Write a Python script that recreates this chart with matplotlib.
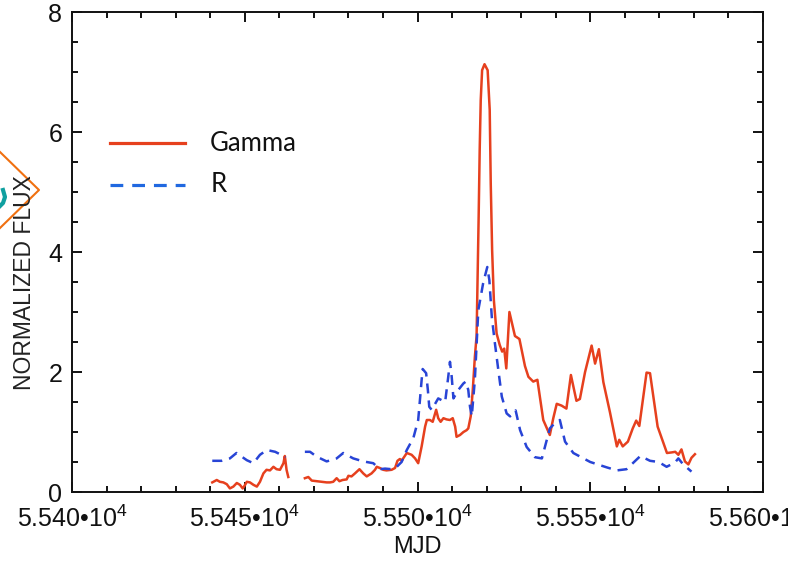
import numpy as np
import matplotlib
matplotlib.use("Agg")
import matplotlib.pyplot as plt
from matplotlib.ticker import MultipleLocator, FixedLocator, FixedFormatter

plt.rcParams['font.family'] = ['Liberation Sans', 'DejaVu Sans']
plt.rcParams['mathtext.fontset'] = 'custom'
plt.rcParams['mathtext.rm'] = 'Liberation Sans'
plt.rcParams['mathtext.it'] = 'Liberation Sans:italic'

# ---------------- data ----------------
gamma_mjd = [55440.6, 55441.9, 55442.8, 55443.8, 55444.8, 55445.7, 55446.7, 55447.7, 55448.6,
             55449.4, 55449.9, 55450.6, 55451.5, 55452.5, 55453.5, 55454.4, 55455.4, 55456.3,
             55457.3, 55458.3, 55459.2, 55460.2, 55461.2, 55461.6, 55462.1, 55462.6,
             55465.0,
             55467.4, 55468.4, 55469.4, 55470.8, 55472.3, 55473.7, 55474.7, 55475.6, 55476.6,
             55477.4, 55478.3, 55479.5, 55480.0, 55480.9, 55481.9, 55483.2, 55484.3, 55485.3,
             55486.7, 55487.7, 55488.2, 55489.1, 55490.1, 55491.0, 55492.5, 55493.5, 55494.2,
             55494.9, 55495.4, 55496.9, 55498.3, 55499.3, 55500.2, 55501.2, 55502.2, 55502.7,
             55503.6, 55504.4, 55505.4, 55506.0, 55506.7, 55507.5, 55508.4, 55509.4, 55510.2,
             55510.9, 55511.3, 55512.3, 55513.3, 55514.2, 55514.7, 55515.4, 55516.0, 55516.6,
             55517.1, 55517.7, 55518.0, 55518.3, 55518.7, 55519.4, 55520.3, 55520.9, 55521.2,
             55521.6, 55522.1, 55522.9, 55523.8, 55524.5, 55525.1, 55525.7, 55526.6, 55528.2,
             55529.5, 55531.1, 55532.1, 55533.5, 55534.7, 55536.4, 55538.3, 55539.3, 55540.3,
             55541.7, 55543.1, 55544.4, 55546.0, 55547.0, 55548.5, 55550.4, 55551.4, 55552.5,
             55553.8, 55555.7, 55557.7, 55558.4, 55559.4, 55560.9, 55562.3, 55563.3, 55564.2,
             55566.3, 55567.3, 55569.5, 55572.2, 55573.6, 55574.6, 55575.5, 55576.4, 55577.4,
             55578.4, 55579.3, 55580.3]
gamma_flux = [0.16, 0.20, 0.17, 0.16, 0.13, 0.06, 0.09, 0.15, 0.12,
              0.06, 0.10, 0.17, 0.16, 0.12, 0.09, 0.17, 0.31, 0.37,
              0.36, 0.42, 0.38, 0.37, 0.48, 0.60, 0.37, 0.25,
              np.nan,
              0.23, 0.25, 0.19, 0.18, 0.17, 0.16, 0.16, 0.17, 0.23,
              0.18, 0.20, 0.21, 0.27, 0.26, 0.31, 0.38, 0.31, 0.26,
              0.31, 0.37, 0.42, 0.40, 0.37, 0.36, 0.37, 0.40, 0.52,
              0.55, 0.52, 0.65, 0.62, 0.56, 0.48, 0.76, 1.09, 1.20,
              1.20, 1.17, 1.37, 1.23, 1.17, 1.23, 1.21, 1.20, 1.23,
              1.09, 0.92, 0.95, 1.00, 1.03, 1.06, 1.26, 1.70, 2.25,
              2.60, 4.59, 5.70, 6.53, 7.03, 7.13, 7.03, 6.37, 5.14,
              4.03, 3.20, 2.64, 2.45, 2.34, 2.39, 2.06, 3.00, 2.60,
              2.55, 2.10, 1.92, 1.84, 1.87, 1.20, 0.95, 1.23, 1.47,
              1.44, 1.39, 1.95, 1.52, 1.55, 2.00, 2.44, 2.14, 2.38,
              1.83, 1.33, 0.76, 0.87, 0.76, 0.84, 1.06, 1.19, 1.10,
              1.99, 1.98, 1.09, 0.65, 0.66, 0.67, 0.62, 0.71, 0.51,
              0.46, 0.57, 0.63]

r_mjd = [55440.6, 55443.3, 55445.7, 55447.6, 55450.6, 55452.5, 55454.4, 55456.4, 55458.8,
         55461.2, 55461.8,
         55465.0,
         55467.4, 55468.9, 55470.8, 55473.7, 55476.6, 55478.5, 55481.4, 55484.3, 55487.2,
         55489.1, 55490.6, 55492.5, 55494.0, 55495.4, 55496.9, 55498.8, 55500.2, 55500.7,
         55501.2, 55501.5, 55502.5, 55503.0, 55503.4, 55504.1, 55506.0, 55508.0, 55508.9,
         55509.4, 55509.9, 55510.4, 55511.8, 55513.3, 55514.0, 55514.7, 55515.2, 55515.7,
         55516.6, 55517.1, 55517.6, 55519.0, 55520.2, 55520.8, 55521.5, 55522.4, 55523.4,
         55524.4, 55525.8, 55526.8, 55528.4, 55529.7, 55531.6, 55534.0, 55536.0, 55538.3,
         55539.8, 55541.2, 55542.7, 55545.1, 55550.0, 55554.8, 55557.7, 55560.5, 55564.5,
         55567.3, 55569.8, 55572.1, 55574.5, 55575.5, 55576.9, 55579.3]
r_flux = [0.52, 0.52, 0.56, 0.65, 0.53, 0.48, 0.62, 0.70, 0.67,
          0.60, 0.58,
          np.nan,
          0.67, 0.67, 0.59, 0.51, 0.56, 0.65, 0.56, 0.51, 0.48,
          0.38, 0.39, 0.38, 0.42, 0.50, 0.70, 0.90, 1.20, 1.53,
          1.87, 2.05, 1.98, 1.70, 1.42, 1.37, 1.56, 1.50, 1.92,
          2.17, 1.92, 1.56, 1.70, 1.81, 1.84, 1.70, 1.42, 1.26,
          1.87, 2.45, 3.03, 3.48, 3.75, 3.53, 2.92, 2.48, 2.03,
          1.59, 1.31, 1.26, 1.36, 1.03, 0.75, 0.58, 0.56, 1.06,
          1.15, 1.20, 0.84, 0.65, 0.50, 0.41, 0.36, 0.38, 0.60,
          0.52, 0.50, 0.42, 0.49, 0.56, 0.46, 0.34]

x_ticks = [55400, 55450, 55500, 55550, 55600]
x_labels = ['5.540\u202210$^4$', '5.545\u202210$^4$', '5.550\u202210$^4$',
            '5.555\u202210$^4$', '5.560\u202210$^4$']
y_ticks = [0, 2, 4, 6, 8]

red = '#e6401e'
blue = '#2844d6'
blue_leg = '#2068e0'

# ---------------- plotting ----------------
fig = plt.figure(figsize=(7.88, 5.63), dpi=100)
ax = fig.add_axes([72 / 788, 71 / 563, 691 / 788, 480 / 563])

ax.plot(gamma_mjd, gamma_flux, color=red, lw=1.8)
ax.plot(r_mjd, r_flux, color=blue, lw=1.8, linestyle=(0, (4, 2.8)))

ax.set_xlim(55400, 55600)
ax.set_ylim(0, 8)
ax.xaxis.set_major_locator(FixedLocator(x_ticks))
ax.xaxis.set_major_formatter(FixedFormatter(x_labels))
ax.xaxis.set_minor_locator(MultipleLocator(10))
ax.yaxis.set_major_locator(FixedLocator(y_ticks))
ax.yaxis.set_minor_locator(MultipleLocator(0.5))

ax.tick_params(which='both', direction='in', top=True, right=True, width=1.4,
               labelsize=18, colors='#111111')
ax.tick_params(which='major', length=7)
ax.tick_params(which='minor', length=4.5)
ax.tick_params(axis='x', pad=10)
ax.tick_params(axis='y', pad=7)
for s in ax.spines.values():
    s.set_linewidth(1.4)
    s.set_color('#111111')

ax.set_xlabel('MJD', fontsize=17, labelpad=3, color='#111111')
fig.text(25 / 788, 1 - 283 / 563, 'NORMALIZED FLUX', rotation=90, ha='center', va='center',
         fontsize=16.5, color='#222222')

# legend drawn by hand, in axes fractions
ax.plot([0.055, 0.164], [0.727, 0.727], color=red, lw=2.3, transform=ax.transAxes)
ax.plot([0.055, 0.164], [0.640, 0.640], color=blue_leg, lw=2.3, linestyle=(0, (4, 2.8)),
        transform=ax.transAxes)
ax.text(0.200, 0.727, 'Gamma', transform=ax.transAxes, fontsize=18.5, family='Lato',
        va='center', ha='left', color='#111111')
ax.text(0.200, 0.640, 'R', transform=ax.transAxes, fontsize=18.5, family='Lato',
        va='center', ha='left', color='#111111')

# orange diamond and teal mark at the left edge of the picture
fig.add_artist(plt.Line2D([0, 39 / 788, 0], [1 - 152 / 563, 1 - 190 / 563, 1 - 228 / 563],
                          color='#f07010', lw=1.5, transform=fig.transFigure))
fig.add_artist(plt.Line2D([0, 3 / 788, 5 / 788, 3 / 788],
                          [1 - 206 / 563, 1 - 203 / 563, 1 - 197 / 563, 1 - 190 / 563],
                          color='#10a0a0', lw=3, transform=fig.transFigure))

fig.savefig('out.png', dpi=100)
